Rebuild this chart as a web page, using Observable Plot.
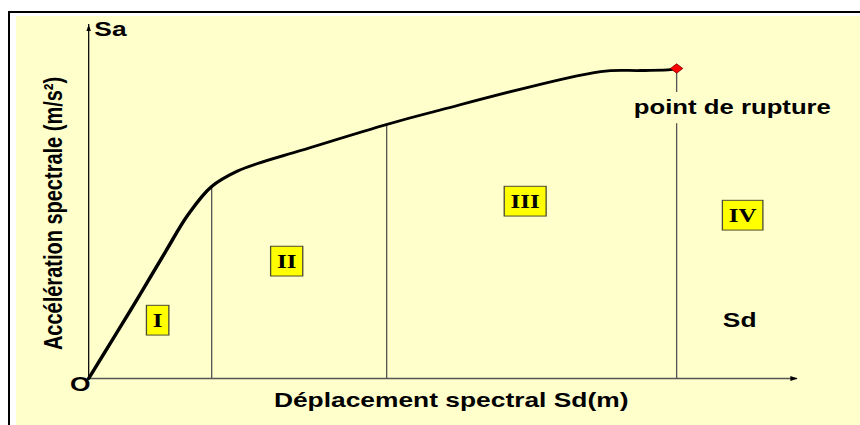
<!DOCTYPE html>
<html>
<head>
<meta charset="utf-8">
<script src="https://cdn.jsdelivr.net/npm/d3@7"></script>
<script src="https://cdn.jsdelivr.net/npm/@observablehq/plot@0.6"></script>
<style>
html, body { margin: 0; padding: 0; background: #fff; }
#wrap { position: relative; width: 860px; height: 425px; overflow: hidden; }
#frame { position: absolute; left: 8px; top: 11px; right: -10px; bottom: -10px;
         border-top: 2px solid #000; border-left: 2px solid #000; background: #fff; }
#fill { position: absolute; left: 16px; top: 16px; right: 0; bottom: 0; background: #ffffcc; }
#chart svg { position: absolute; left: 0; top: 0; }
</style>
</head>
<body>
<div id="wrap"><div id="frame"></div><div id="fill"></div><div id="chart"></div></div>
<script>
// Capacity curve (spectral displacement Sd, spectral acceleration Sa) – arbitrary units
const curveSd = [0, 0.381, 0.733, 1.086, 1.400, 1.735, 2.100, 2.384, 2.990, 4.203, 4.824, 7.222, 7.786, 8.209, 8.293];
const curveSa = [0, 0.621, 1.201, 1.794, 2.310, 2.712, 2.930, 3.037, 3.220, 3.588, 3.757, 4.336, 4.350, 4.364, 4.379];

// Zone boundaries (vertical lines up to the curve)
const boundarySd = [1.735, 4.203, 8.293];
const boundarySa = [2.712, 3.588, 4.379];

// Zone labels
const zoneNames = ["I", "II", "III", "IV"];
const zoneSd = [0.973, 2.793, 6.157, 9.224];
const zoneSa = [0.819, 1.653, 2.500, 2.302];

// Rupture point
const ruptureSd = 8.293;
const ruptureSa = 4.379;
const ruptureLabel = "point de rupture";

// Axis extents
const sdMax = 10;
const saMax = 5;

// Texts
const xTitle = "Déplacement spectral Sd(m)";
const yTitle = "Accélération spectrale (m/s²)";
const labelTexts = ["Sa", "O", "Sd"];
const labelSd = [0.08, -0.12, 9.182];
const labelSa = [4.922, -0.085, 0.819];
const labelAnchor = ["start", "middle", "middle"];

const W = 652;             // drawn width, stretched to 860 px like the original picture
const S = 860 / W;

const curve = curveSd.map((x, i) => ({x, y: curveSa[i]}));
const bounds = boundarySd.map((x, i) => ({x, y: boundarySa[i]}));
const zones = zoneNames.map((t, i) => ({t, x: zoneSd[i], y: zoneSa[i]}));
const labels = labelTexts.map((t, i) => ({t, x: labelSd[i], y: labelSa[i], a: labelAnchor[i]}));

const arrowUp = {draw(c) { c.moveTo(0, 0); c.lineTo(-1.7, 6.5); c.lineTo(1.7, 6.5); c.closePath(); }};
const arrowRight = {draw(c) { c.moveTo(0, 0); c.lineTo(-5.5, -2.6); c.lineTo(-5.5, 2.6); c.closePath(); }};

const sans = "'Liberation Sans', Arial, Helvetica, sans-serif";
const serif = "'Liberation Serif', 'Times New Roman', serif";

const svg = Plot.plot({
  width: W,
  height: 425,
  marginLeft: 88 / S,
  marginRight: (860 - 797) / S,
  marginTop: 24,
  marginBottom: 47,
  x: {domain: [0, sdMax]},
  y: {domain: [0, saMax]},
  axis: null,
  style: {background: "transparent", fontFamily: sans, fontWeight: "bold", fontSize: "20px", color: "#000", overflow: "visible"},
  marks: [
    Plot.ruleX(bounds, {x: "x", y1: 0, y2: "y", stroke: "#555", strokeWidth: 1}),
    Plot.ruleY([0], {x1: 0, x2: sdMax, stroke: "#555", strokeWidth: 1.6}),
    Plot.ruleX([0], {y1: 0, y2: saMax, stroke: "#111", strokeWidth: 1}),
    Plot.dot([saMax], {x: 0, y: d => d, symbol: arrowUp, fill: "#000", stroke: "none"}),
    Plot.dot([sdMax], {x: d => d, y: 0, symbol: arrowRight, fill: "#000", stroke: "none"}),
    Plot.line(curve, {x: "x", y: "y", curve: "catmull-rom", stroke: "#000", strokeWidth: 2.8}),
    Plot.dot([{x: ruptureSd, y: ruptureSa}], {x: "x", y: "y", symbol: "diamond2", r: 4.2, fill: "#ff0000", stroke: "#700", strokeWidth: 0.7}),
    Plot.text([ruptureLabel], {x: 9.079, y: 3.818, text: d => d, fontSize: 19.5, fill: "#000"}),
    Plot.text(zones, {x: "x", y: "y", text: "t", fontFamily: serif, fontSize: 19, fontWeight: "bold", fill: "#000"}),
    Plot.text(labels, {x: "x", y: "y", text: "t", textAnchor: "start", filter: d => d.a === "start", fill: "#000"}),
    Plot.text(labels, {x: "x", y: "y", text: "t", filter: d => d.a === "middle", fill: "#000"}),
    Plot.text([xTitle], {x: 5.113, y: -0.311, text: d => d, fill: "#000"}),
    Plot.text([yTitle], {x: -0.501, y: 2.331, text: d => d, rotate: -90, fill: "#000"})
  ]
});

document.getElementById("chart").append(svg);
svg.setAttribute("viewBox", `0 0 ${W} 425`);
svg.setAttribute("preserveAspectRatio", "none");
svg.setAttribute("width", 860);
svg.setAttribute("height", 425);
svg.style.width = "860px";
svg.style.height = "425px";
svg.style.maxWidth = "none";

// boxes behind zone labels and behind the rupture label
svg.querySelectorAll("text").forEach(t => {
  const label = t.textContent;
  let fill, stroke, px, py;
  if (zoneNames.includes(label)) { fill = "#ffff00"; stroke = "#4d4d33"; px = 4.8; py = 4.2; }
  else if (label === ruptureLabel) { fill = "#ffffcc"; stroke = "none"; px = 2; py = 4.5; }
  else return;
  const b = t.getBBox();
  const r = document.createElementNS("http://www.w3.org/2000/svg", "rect");
  r.setAttribute("x", b.x - px);
  r.setAttribute("y", b.y - py);
  r.setAttribute("width", b.width + 2 * px);
  r.setAttribute("height", b.height + 2 * py);
  r.setAttribute("fill", fill);
  r.setAttribute("stroke", stroke);
  r.setAttribute("stroke-width", 1);
  if (t.getAttribute("transform")) r.setAttribute("transform", t.getAttribute("transform"));
  t.parentNode.insertBefore(r, t);
});
</script>
</body>
</html>
